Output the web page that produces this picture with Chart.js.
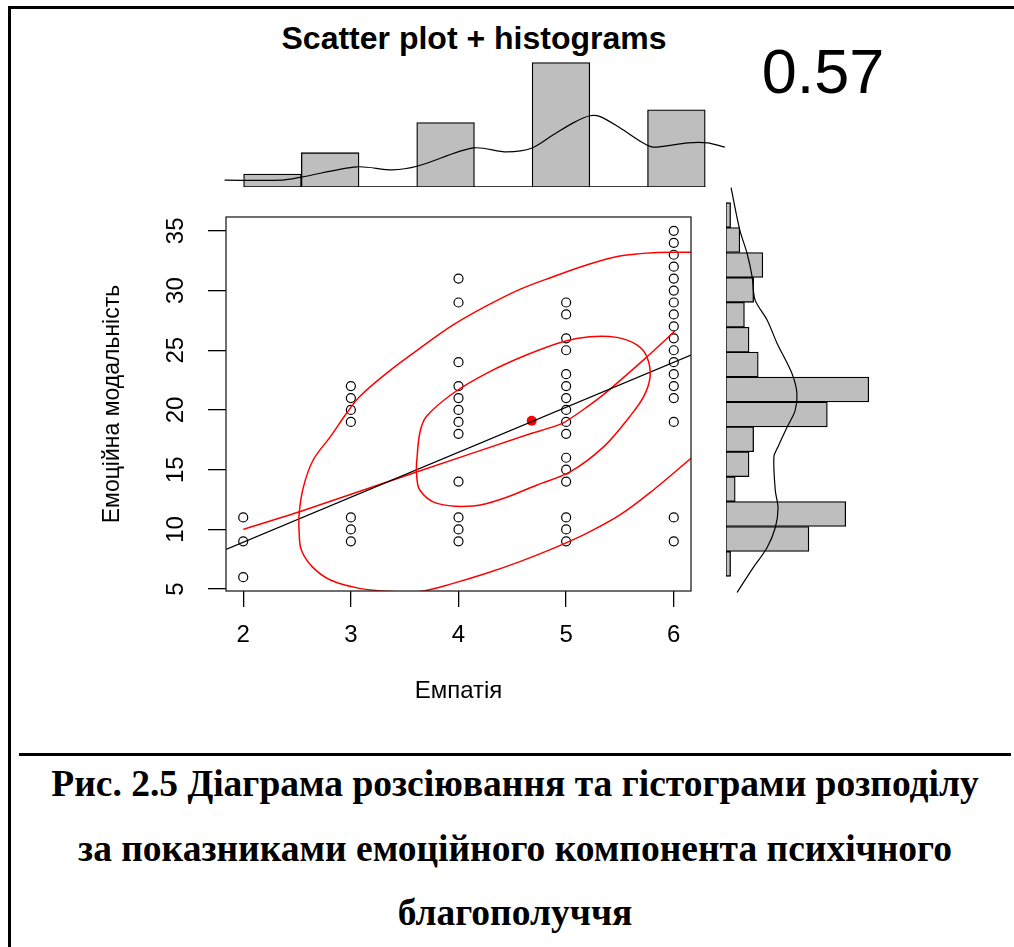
<!DOCTYPE html>
<html lang="uk">
<head>
<meta charset="UTF-8">
<title>Scatter plot + histograms</title>
<script src="https://cdn.jsdelivr.net/npm/chart.js"></script>
<style>
  body { margin: 0; background: #fff; }
  #page { position: relative; width: 1014px; height: 947px; overflow: hidden; background: #fff; }
  canvas { position: absolute; }
  .line { position: absolute; background: #000; }
  .txt { position: absolute; white-space: nowrap; transform: translate(-50%, -50%); color: #000; }
  #title { left: 474px; top: 38px; font: bold 32px 'Liberation Sans', Arial, sans-serif; }
  #corr { left: 823px; top: 71px; font: 63px 'Liberation Sans', Arial, sans-serif; }
  .cap { left: 515px; font: bold 37.5px 'Liberation Serif', 'Times New Roman', serif; }
</style>
</head>
<body>
<div id="page">
  <div class="line" style="left:8px;top:6px;width:1006px;height:3px"></div>
  <div class="line" style="left:8px;top:6px;width:3px;height:941px"></div>
  <div class="line" style="left:19px;top:753px;width:992px;height:3px"></div>

  <div id="title" class="txt">Scatter plot + histograms</div>
  <div id="corr" class="txt">0.57</div>

  <canvas id="top" width="510" height="141" style="left:220px;top:50px;width:510px;height:141px"></canvas>
  <canvas id="side" width="160" height="419" style="left:722px;top:180px;width:160px;height:419px"></canvas>
  <canvas id="main" width="660" height="520" style="left:60px;top:200px;width:660px;height:520px"></canvas>

  <div class="txt cap" style="top:783px">Рис. 2.5 Діаграма розсіювання та гістограми розподілу</div>
  <div class="txt cap" style="top:848px">за показниками емоційного компонента психічного</div>
  <div class="txt cap" style="top:912px">благополуччя</div>
</div>

<script>
  // scatter points, one list of y values per x column
  const empatia = [2, 3, 4, 5, 6];
  const emoCols = [
    [11, 9, 6],
    [22, 21, 20, 19, 11, 10, 9],
    [31, 29, 24, 22, 21, 20, 19, 18, 14, 11, 10, 9],
    [29, 28, 26, 25, 23, 22, 21, 20, 19, 18, 16, 15, 14, 11, 10, 9],
    [35, 34, 33, 32, 31, 30, 29, 28, 27, 26, 25, 24, 23, 22, 21, 19, 11, 9]
  ];
  const xTickVals = [2, 3, 4, 5, 6];
  const yTickVals = [5, 10, 15, 20, 25, 30, 35];

  // linear fit (black)
  const regX = [1.84, 6.16];
  const regY = [8.33, 24.6];

  // lowess (red)
  const lowX = [2.0, 2.53, 3.61, 4.68, 4.97, 5.32, 5.72, 6.01];
  const lowY = [10.0, 11.5, 14.8, 18.05, 18.9, 21.1, 24.2, 26.6];

  // centroid
  const meanX = 4.68;
  const meanY = 19.1;

  // inner ellipse
  const in50X = [3.61, 3.64, 3.70, 3.95, 4.26, 4.63, 4.97, 5.22, 5.47, 5.66, 5.75, 5.78, 5.72, 5.59, 5.35, 5.04, 4.73, 4.42, 4.14, 3.80, 3.64, 3.61, 3.61];
  const in50Y = [15.53, 18.05, 19.44, 21.40, 23.07, 24.60, 25.72, 26.14, 26.08, 25.44, 24.46, 22.79, 21.11, 19.44, 16.93, 14.83, 13.72, 12.60, 11.96, 12.18, 13.30, 14.70, 15.53];

  // outer ellipse (clipped by the plot box)
  const out95X = [6.16, 5.81, 5.50, 5.19, 4.88, 4.57, 4.26, 3.95, 3.64, 3.33, 3.08, 2.96, 2.81, 2.65, 2.56, 2.52, 2.52, 2.54, 2.64, 2.81, 3.08, 3.39, 3.64, 3.95, 4.26, 4.57, 4.88, 5.19, 5.50, 5.81, 6.16];
  const out95Y = [33.20, 33.17, 32.89, 32.14, 31.16, 30.10, 28.71, 27.12, 25.16, 23.07, 21.11, 19.72, 17.77, 15.81, 13.58, 11.34, 9.67, 8.27, 6.88, 5.76, 5.06, 4.79, 4.79, 5.48, 6.32, 7.30, 8.41, 9.67, 11.21, 13.30, 15.95];

  // top histogram (Емпатія)
  const topBreaks = [2, 2.5, 3, 3.5, 4, 4.5, 5, 5.5, 6];
  const topCounts = [3, 8, 0, 15, 0, 29, 0, 18];
  const topDensX = [1.835, 2.33, 2.50, 2.98, 3.29, 3.51, 3.99, 4.28, 4.50, 4.68, 4.86, 5.00, 5.09, 5.26, 5.46, 5.55, 5.85, 6.02, 6.17];
  const topDensY = [1.6, 1.6, 2.3, 4.7, 4.0, 4.9, 9.1, 8.2, 9.1, 12.1, 15.0, 16.6, 16.4, 13.8, 10.3, 9.3, 10.3, 10.3, 9.3];

  // right histogram (Емоційна модальність), bins from the bottom up
  const sideBreaks = [6, 8, 10, 12, 14, 16, 18, 20, 22, 24, 26, 28, 30, 32, 34, 36];
  const sideCounts = [1, 18, 26, 2, 5, 6, 22, 31, 7, 5, 4, 6, 8, 3, 1];
  const sideDensX = [1.1, 3.0, 4.6, 5.7, 6.3, 8.9, 11.1, 14.3, 15.4, 15.0, 13.3, 11.3, 10.4, 10.7, 11.3, 10.7, 8.9, 5.9, 2.4];
  const sideDensY = [37.2, 33.8, 31.9, 30.0, 28.2, 26.6, 24.7, 22.3, 20.7, 19.3, 18.0, 16.4, 15.6, 12.9, 11.5, 9.9, 8.3, 6.7, 4.7];

  const RED = '#ff0000';
  const GREY = '#bebebe';
  const FONT = "'Liberation Sans', Arial, sans-serif";
  Chart.defaults.font.family = FONT;
  Chart.defaults.color = '#000';

  const zip = (xs, ys) => xs.map((x, i) => ({ x, y: ys[i] }));
  const mids = br => br.slice(0, -1).map((b, i) => (b + br[i + 1]) / 2);

  const boxPlugin = {
    id: 'box',
    afterDraw(chart) {
      const { ctx, chartArea: a } = chart;
      ctx.save();
      ctx.strokeStyle = '#222';
      ctx.lineWidth = 1.3;
      ctx.strokeRect(a.left, a.top, a.right - a.left, a.bottom - a.top);
      ctx.restore();
    }
  };

  // R-style vertical tick labels on the y axis
  const yLabels = {
    id: 'yLabels',
    afterDraw(chart) {
      const { ctx, chartArea: a } = chart;
      const s = chart.scales.y;
      ctx.save();
      ctx.font = '24px ' + FONT;
      ctx.fillStyle = '#000';
      ctx.textAlign = 'center';
      ctx.textBaseline = 'middle';
      s.ticks.forEach(t => {
        ctx.save();
        ctx.translate(a.left - 50, s.getPixelForValue(t.value));
        ctx.rotate(-Math.PI / 2);
        ctx.fillText(String(t.value), 0, 0);
        ctx.restore();
      });
      ctx.restore();
    }
  };

  const points = [];
  empatia.forEach((x, i) => emoCols[i].forEach(y => points.push({ x, y })));

  const lineDs = (data, color, width, tension = 0) => ({
    type: 'line', data, borderColor: color, borderWidth: width,
    pointRadius: 0, fill: false, tension
  });

  new Chart(document.getElementById('main'), {
    type: 'scatter',
    data: {
      datasets: [
        lineDs(zip(out95X, out95Y), RED, 1.5, 0.35),
        lineDs(zip(in50X, in50Y), RED, 1.5, 0.35),
        lineDs(zip(regX, regY), '#000', 1.2),
        lineDs(zip(lowX, lowY), RED, 1.5, 0.2),
        {
          data: points, pointStyle: 'circle', pointRadius: 4.5,
          borderColor: '#000', borderWidth: 1.2, backgroundColor: 'rgba(0,0,0,0)'
        },
        {
          data: [{ x: meanX, y: meanY }], pointRadius: 5,
          borderColor: RED, backgroundColor: RED, borderWidth: 0
        }
      ]
    },
    options: {
      responsive: false,
      animation: false,
      layout: { padding: { left: 0, top: 17, right: 29, bottom: 0 } },
      plugins: { legend: { display: false }, tooltip: { enabled: false } },
      scales: {
        x: {
          type: 'linear', min: 1.84, max: 6.16,
          ticks: { font: { size: 24 }, padding: 14, color: '#000' },
          afterBuildTicks: s => { s.ticks = xTickVals.map(v => ({ value: v })); },
          afterFit: s => { s.height = 129; },
          grid: { drawOnChartArea: false, tickLength: 16, tickColor: '#000', lineWidth: 1.3 },
          border: { display: false },
          title: { display: true, text: 'Емпатія', font: { size: 24 }, padding: { top: 0, bottom: 14 } }
        },
        y: {
          type: 'linear', min: 4.84, max: 36.16,
          ticks: { display: false },
          afterBuildTicks: s => { s.ticks = yTickVals.map(v => ({ value: v })); },
          afterFit: s => { s.width = 166; },
          grid: { drawOnChartArea: false, tickLength: 18, tickColor: '#000', lineWidth: 1.3 },
          border: { display: false },
          title: { display: true, text: 'Емоційна модальність', font: { size: 23 }, padding: { top: 39, bottom: 0 } }
        }
      }
    },
    plugins: [boxPlugin, yLabels]
  });

  new Chart(document.getElementById('top'), {
    type: 'bar',
    data: {
      datasets: [
        {
          data: zip(mids(topBreaks), topCounts),
          backgroundColor: GREY, borderColor: '#000', borderWidth: 1.3,
          barPercentage: 1, categoryPercentage: 1, order: 2
        },
        lineDs(zip([topBreaks[0], topBreaks[topBreaks.length - 1]], [0, 0]), '#000', 1.3),
        lineDs(zip(topDensX, topDensY), '#000', 1.2, 0.3)
      ]
    },
    options: {
      responsive: false,
      animation: false,
      layout: { padding: 4 },
      plugins: { legend: { display: false }, tooltip: { enabled: false } },
      scales: {
        x: { type: 'linear', min: 1.83, max: 6.18, offset: false, display: false },
        y: { min: 0, max: 31, display: false }
      }
    }
  });

  new Chart(document.getElementById('side'), {
    type: 'bar',
    data: {
      datasets: [
        {
          data: zip(sideCounts, mids(sideBreaks)),
          backgroundColor: GREY, borderColor: '#000', borderWidth: 1.3,
          barPercentage: 1, categoryPercentage: 1, order: 2
        },
        Object.assign(lineDs(zip([0, 0], [sideBreaks[0], sideBreaks[sideBreaks.length - 1]]), '#000', 1.3), { indexAxis: 'y' }),
        Object.assign(lineDs(zip(sideDensX, sideDensY), '#000', 1.2, 0.3), { indexAxis: 'y' })
      ]
    },
    options: {
      indexAxis: 'y',
      responsive: false,
      animation: false,
      layout: { padding: 4 },
      plugins: { legend: { display: false }, tooltip: { enabled: false } },
      scales: {
        x: { type: 'linear', min: 0, max: 33, display: false },
        y: { type: 'linear', min: 4.5, max: 37.5, offset: false, display: false }
      }
    }
  });
</script>
</body>
</html>
